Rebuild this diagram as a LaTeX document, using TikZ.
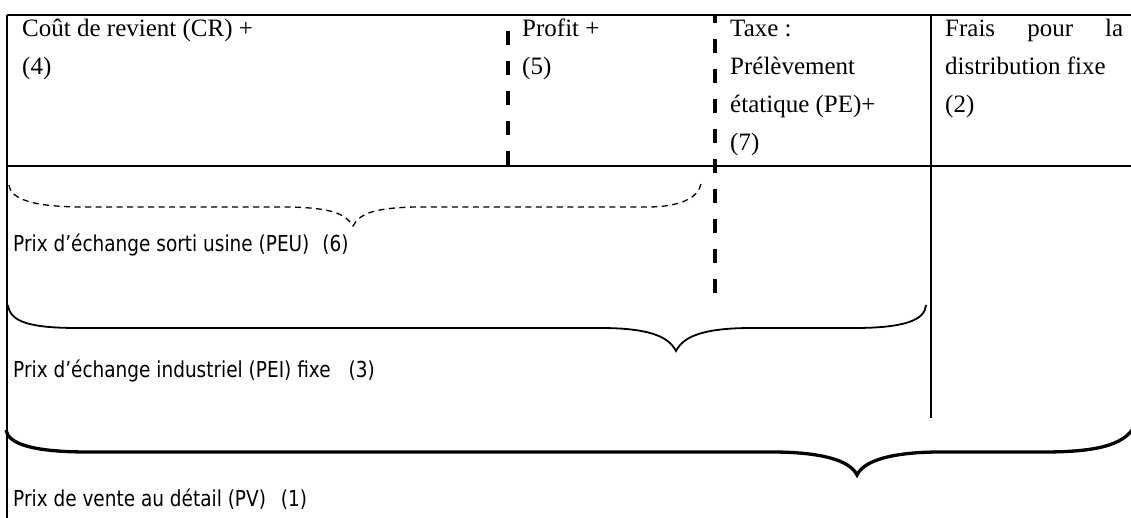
\documentclass[tikz,border=0pt]{standalone}
\usepackage{fontspec}
\setmainfont{Liberation Serif}
\newfontfamily\tahoma[FakeStretch=0.84]{DejaVu Sans}
\begin{document}
\begin{tikzpicture}[x=1pt,y=-1pt,
  serif/.style={anchor=base west, inner sep=0pt, font=\fontsize{25}{30}\selectfont},
  sanslbl/.style={anchor=base west, inner sep=0pt, font=\tahoma\fontsize{22}{26}\selectfont},
  border/.style={line width=2pt},
  thinrule/.style={line width=1.5pt},
  thickdash/.style={line width=4pt, dash pattern=on 14pt off 16pt},
  dashbrace/.style={line width=1.3pt, dash pattern=on 6pt off 4.5pt},
  midbrace/.style={line width=1.8pt},
  bigbrace/.style={line width=3.3pt}]
\useasboundingbox (0,0) rectangle (1131,518);
\clip (0,0) rectangle (1131,518);
% grid coordinates
\coordinate (TL) at (7,15);
\coordinate (TR) at (1131,15);
\coordinate (BL) at (7,518);
\coordinate (RL) at (7,166);
\coordinate (RR) at (1131,166);
\coordinate (D1t) at (508,15);
\coordinate (D1b) at (508,165);
\coordinate (D2t) at (715,15);
\coordinate (D2b) at (715,293);
\coordinate (Vt) at (931,15);
\coordinate (Vb) at (931,418);
% table lines
\draw[border] (TL) -- (TR);
\draw[border] (TL) -- (BL);
\draw[border] (RL) -- (RR);
\draw[thinrule] (Vt) -- (Vb);
\draw[thickdash] (D1b) -- (D1t);
\draw[thickdash] (D2b) -- (D2t);
% header texts
\node[serif] (cr) at (22,37) {Coût de revient (CR) +};
\node[serif] (cr4) at (22,75) {(4)};
\node[serif] (profit) at (522,37) {Profit +};
\node[serif] (p5) at (522,75) {(5)};
\node[serif] (taxe) at (730,37) {Taxe :};
\node[serif] (prel) at (730,75) {Prélèvement};
\node[serif] (etat) at (730,113) {étatique (PE)+};
\node[serif] (t7) at (730,151) {(7)};
\node[serif] (frais) at (945,37) {\makebox[178pt][s]{Frais pour la}};
\node[serif] (dist) at (945,75) {distribution fixe};
\node[serif] (f2) at (945,113) {(2)};
% braces
\draw[dashbrace] (9,185) .. controls (11,200) and (35,207) .. (85,207) -- (290,207)
  .. controls (330,208) and (345,213) .. (353,226)
  .. controls (360,213) and (375,208) .. (415,207) -- (647,207)
  .. controls (680,207) and (698,198) .. (701,184);
\draw[midbrace] (8,305) .. controls (10,322) and (30,328) .. (78,328) -- (600,328)
  .. controls (645,328) and (668,335) .. (676,351)
  .. controls (684,335) and (707,328) .. (752,328) -- (854,328)
  .. controls (905,328) and (925,320) .. (926,305);
\draw[bigbrace] (6,430) .. controls (8,443) and (30,452) .. (88,452) -- (772,452)
  .. controls (820,452) and (850,460) .. (857,475)
  .. controls (864,460) and (894,452) .. (940,452) -- (1043,452)
  .. controls (1090,452) and (1125,447) .. (1135,425);
% lower labels
\node[sanslbl] (peu) at (13,252) {Prix d’échange sorti usine (PEU)\hspace{13pt}(6)};
\node[sanslbl] (pei) at (13,377) {Prix d’échange industriel (PEI) fixe\hspace{18pt}(3)};
\node[sanslbl] (pv) at (13,506) {Prix de vente au détail (PV)\hspace{15pt}(1)};
\end{tikzpicture}
\end{document}
